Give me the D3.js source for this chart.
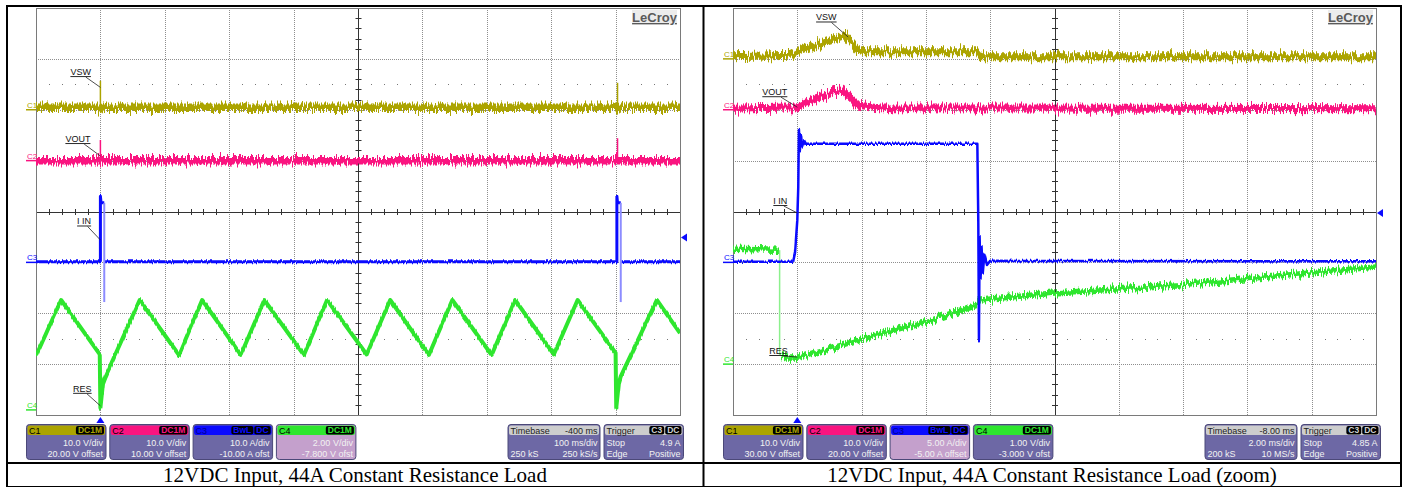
<!DOCTYPE html>
<html>
<head>
<meta charset="utf-8">
<script src="https://cdn.jsdelivr.net/npm/d3@7"></script>
<style>
body { margin: 0; background: #fff; }
svg { display: block; font-family: "Liberation Sans", Arial, sans-serif; }
</style>
</head>
<body>
<div id="chart"></div>
<script>
const captions = ["12VDC Input, 44A Constant Resistance Load", "12VDC Input, 44A Constant Resistance Load (zoom)"];
const channelNames = ["C1", "C2", "C3", "C4"];
const channelBadges = [["DC1M"], ["DC1M"], ["BwL", "DC"], ["DC1M"]];

// left screen: timebase and channel settings
const leftDelay = -400, leftPerDiv = 100;          // ms
const leftScale = [10, 10, 10, 2];                 // units / div
const leftOffset = [20, 10, -10, -7.8];
const leftTrigLevel = 4.9;                         // A on C3
const leftVdivText = ["10.0 V/div", "10.0 V/div", "10.0 A/div", "2.00 V/div"];
const leftOfsText = ["20.00 V offset", "10.00 V offset", "-10.00 A ofst", "-7.800 V ofst"];
const leftTimebaseText = ["-400 ms", "100 ms/div", "250 kS", "250 kS/s"];
const leftTriggerText = ["Stop", "4.9 A", "Edge", "Positive"];

// right screen (zoom)
const rightDelay = -8, rightPerDiv = 2;
const rightScale = [10, 10, 5, 1];
const rightOffset = [30, 20, -5, -3];
const rightTrigLevel = 4.85;
const rightVdivText = ["10.0 V/div", "10.0 V/div", "5.00 A/div", "1.00 V/div"];
const rightOfsText = ["30.00 V offset", "20.00 V offset", "-5.00 A offset", "-3.000 V ofst"];
const rightTimebaseText = ["-8.00 ms", "2.00 ms/div", "200 kS", "10 MS/s"];
const rightTriggerText = ["Stop", "4.85 A", "Edge", "Positive"];

// traces: [time ms, value]; null = gap in the trace
const leftVsw = [[-100, 0.5], [-1, 0.5], [1, 0.2], [4, 0.5], [802, 0.5], [804, 0.2], [807, 0.5], [900, 0.5]];
const leftVswSpikes = [[0, 0.5, 5.7], [803, 0.5, 5.3]];      // [t, from, to]
const leftVout = [[-100, 0.0], [900, 0.0]];
const leftVoutSpikes = [[0, 0.0, 4.05], [803, 0.0, 4.4]];
const leftIin = [[-100, 0.1], [0, 0.1], [0, 13], [1, 11.7], [6, 11.7], null, [7, 0.1],
  [802, 0.1], [802, 13], [803, 11.7], [808, 11.7], null, [809, 0.1], [900, 0.1]];
const leftIinDips = [[6, 11.7, -7.8], [808, 11.7, -7.8]];
const leftRes = [[-100, 2.12], [-61, 4.32], [-1, 2.18], [0, 0.08], [4, 1.06], [8, 1.32], [61, 4.32],
  [122, 2.16], [158, 4.32], [218, 2.16], [254.5, 4.32], [316, 2.16], [352, 4.32], [413.5, 2.18],
  [450, 4.32], [510, 2.16], [546.5, 4.32], [607.5, 2.16], [644, 4.32], [704, 2.18], [741, 4.32],
  [800, 2.24], [801, 0.08], [805, 1.06], [808, 1.32], [864, 4.32], [900, 3.02]];

const rightVsw = [[-2, 0.4], [-0.2, 0.7], [0.1, 1.7], [0.7, 3.1], [1.5, 4.6], [1.9, 1.7], [2.1, 1.4],
  [5.6, 1.4], [5.7, 0.4], [18, 0.4]];
const rightVout = [[-2, 0.3], [0, 0.6], [0.6, 2.2], [1.39, 3.9], [1.9, 0.9], [2.5, 0.4], [18, 0.2]];
const rightIin = [[-2, 0.05], [-0.13, 0.05], [-0.07, 0.95], [0, 4.15], [0.03, 7.4], [0.05, 13], [0.08, 11],
  [0.12, 12.5], [0.15, 11.4], [0.21, 12], [0.27, 11.65], [5.6, 11.65], [5.63, 4], [5.65, -7.65],
  [5.67, 2.5], [5.7, -1.5], [5.73, 1.5], [5.77, -1], [5.82, 0.75], [5.9, -0.25], [6, 0.15], [18, 0.1]];
const rightRes = [[-2, 2.26], [-0.57, 2.24], null, [-0.5, 0.18], [-0.35, 0.12], [0.05, 0.12], [2.1, 0.51],
  [4.2, 0.87], [5.6, 1.18], [5.7, 1.26], [8, 1.4], [11.9, 1.56], [18, 1.91]];
const rightResDrops = [[-0.55, 2.24, 0.18]];

// trace labels: [text, t, value] on channel C1..C4
const leftLabels = [["VSW", 0, 4.4], ["VOUT", 0, 0.9], ["I IN", 0, 4.4], ["RES", 0, 0.16]];
const rightLabels = [["VSW", 1.58, 4.3], ["VOUT", 0, 0.5], ["I IN", 0, 4.85], ["RES", 0, 0.14]];

// ---- styles / layout ----
const W = 1406, H = 487;
const colors = ["#aca400", "#fa1480", "#0a0aff", "#2ee62e"];
const lightColors = [null, null, "#8c8cff", "#8cf08c"];
const boxBody = "#6d68a5", boxHigh = "#c4a0cc", boxEdge = "#4b4878";

const svg = d3.select("#chart").append("svg").attr("width", W).attr("height", H);
const defs = svg.append("defs");

// jitter filter for the noisy trace bands
function noiseFilter(id, scale, seed) {
  const f = defs.append("filter").attr("id", id)
    .attr("filterUnits", "userSpaceOnUse").attr("x", 0).attr("y", 0).attr("width", W).attr("height", H)
    .attr("color-interpolation-filters", "sRGB");
  f.append("feTurbulence").attr("type", "fractalNoise").attr("baseFrequency", "0.8 0.03")
    .attr("numOctaves", 2).attr("seed", seed).attr("result", "t");
  f.append("feColorMatrix").attr("in", "t").attr("type", "matrix")
    .attr("values", "0 0 0 0 0.5  1 0 0 0 0  0 0 0 0 0  0 0 0 0 1").attr("result", "m");
  f.append("feDisplacementMap").attr("in", "SourceGraphic").attr("in2", "m")
    .attr("scale", scale).attr("xChannelSelector", "R").attr("yChannelSelector", "G");
}
noiseFilter("nBig", 15, 3);
noiseFilter("nMid", 13, 7);
noiseFilter("nSmall", 4, 11);

const panels = [
  { left: 36, top: 8, width: 644, height: 407, delay: leftDelay, perDiv: leftPerDiv,
    scale: leftScale, offset: leftOffset, trig: leftTrigLevel,
    traces: [leftVsw, leftVout, leftIin, leftRes],
    widths: [7.5, 7.5, 3, 4], filters: ["nBig", "nBig", "nSmall", "nSmall"],
    spikes: [leftVswSpikes, leftVoutSpikes, [], []], dips: [[], [], leftIinDips, []],
    labels: leftLabels, labelOffsets: [[-30, -12.3], [-35, -14], [-23.3, -15.5], [-27.3, -14]],
    vdiv: leftVdivText, ofs: leftOfsText, tb: leftTimebaseText, tr: leftTriggerText, high: 3,
    caption: captions[0], cellX: [7, 703] },
  { left: 733, top: 8, width: 643, height: 407, delay: rightDelay, perDiv: rightPerDiv,
    scale: rightScale, offset: rightOffset, trig: rightTrigLevel,
    traces: [rightVsw, rightVout, rightIin, rightRes],
    widths: [7, 7, 2.5, 5.5], filters: ["nBig", "nBig", "nSmall", "nMid"],
    spikes: [[], [], [], []], dips: [[], [], [], rightResDrops],
    labels: rightLabels, labelOffsets: [[-32, -16.5], [-35, -12], [-24, -9], [-28, -3]],
    vdiv: rightVdivText, ofs: rightOfsText, tb: rightTimebaseText, tr: rightTriggerText, high: 2,
    caption: captions[1], cellX: [703, 1401] }
];

function drawBox(g, bx, by, bw, bh, headFill, bodyFill) {
  g.append("rect").attr("x", bx + 0.5).attr("y", by + 0.5).attr("width", bw).attr("height", bh)
    .attr("rx", 3).attr("fill", bodyFill).attr("stroke", boxEdge);
  g.append("rect").attr("x", bx + 1.5).attr("y", by + 1.5).attr("width", bw - 2).attr("height", 9.5)
    .attr("rx", 2).attr("fill", headFill);
}

function drawBadges(g, rightX, by, names, textFill) {
  let bx = rightX;
  names.slice().reverse().forEach(n => {
    const bg = g.append("g");
    const r = bg.append("rect").attr("fill", "#000").attr("rx", 2);
    const t = bg.append("text").attr("font-size", 8.5).attr("font-weight", "bold")
      .attr("fill", textFill).attr("text-anchor", "end").attr("x", bx - 2).attr("y", by + 9).text(n);
    const w = t.node().getComputedTextLength();
    r.attr("x", bx - w - 4).attr("y", by + 2).attr("width", w + 4).attr("height", 8.5);
    bx -= w + 5;
  });
}

function drawPanel(p, pi) {
  const g = svg.append("g");
  const t0 = -5 * p.perDiv - p.delay;
  const x = d3.scaleLinear().domain([t0, t0 + 10 * p.perDiv]).range([p.left, p.left + p.width]);
  const yDiv = d3.scaleLinear().domain([-4, 4]).range([p.top + p.height, p.top]);
  const toDiv = (ch, v) => (v + p.offset[ch]) / p.scale[ch];
  const right = p.left + p.width, bottom = p.top + p.height;
  const cx = x(t0 + 5 * p.perDiv), cy = yDiv(0);

  // grid
  const grid = g.append("g").attr("stroke", "#8e8e8e").attr("stroke-dasharray", "1,1");
  grid.selectAll(null).data([1, 2, 3, 4, 6, 7, 8, 9]).join("line")
    .attr("x1", i => Math.round(x(t0 + i * p.perDiv)) + 0.5).attr("x2", i => Math.round(x(t0 + i * p.perDiv)) + 0.5)
    .attr("y1", p.top).attr("y2", bottom);
  grid.selectAll(null).data([-3, -2, -1, 1, 2, 3]).join("line")
    .attr("y1", d => Math.round(yDiv(d)) + 0.5).attr("y2", d => Math.round(yDiv(d)) + 0.5)
    .attr("x1", p.left).attr("x2", right);

  // sparse dot rows
  const dots = d3.range(1, 50).filter(k => k % 5 !== 0);
  [-2.5, 2.5].forEach(r => {
    g.append("g").selectAll(null).data(dots).join("rect")
      .attr("x", k => Math.round(x(t0 + k * p.perDiv / 5))).attr("y", Math.round(yDiv(r)))
      .attr("width", 1).attr("height", 1).attr("fill", "#777");
  });

  // centre axes with minor ticks
  const axes = g.append("g").attr("stroke", "#333").attr("stroke-width", 1);
  axes.append("line").attr("x1", p.left).attr("x2", right).attr("y1", Math.round(cy) + 0.5).attr("y2", Math.round(cy) + 0.5);
  axes.append("line").attr("y1", p.top).attr("y2", bottom).attr("x1", Math.round(cx) + 0.5).attr("x2", Math.round(cx) + 0.5);
  axes.selectAll(null).data(dots).join("line")
    .attr("x1", k => Math.round(x(t0 + k * p.perDiv / 5)) + 0.5).attr("x2", k => Math.round(x(t0 + k * p.perDiv / 5)) + 0.5)
    .attr("y1", cy - 2.5).attr("y2", cy + 3.5);
  axes.selectAll(null).data(d3.range(1, 40).filter(k => k % 5 !== 0)).join("line")
    .attr("y1", k => Math.round(yDiv(k / 5 - 4)) + 0.5).attr("y2", k => Math.round(yDiv(k / 5 - 4)) + 0.5)
    .attr("x1", cx - 2.5).attr("x2", cx + 3.5);

  g.append("rect").attr("x", p.left + 0.5).attr("y", p.top + 0.5).attr("width", p.width).attr("height", p.height)
    .attr("fill", "none").attr("stroke", "#7a7a7a");

  // traces, drawn C1, C2, C4, C3
  const clipId = "clip" + pi;
  defs.append("clipPath").attr("id", clipId).append("rect")
    .attr("x", p.left).attr("y", p.top).attr("width", p.width).attr("height", p.height);
  const tg = g.append("g").attr("clip-path", `url(#${clipId})`);
  [0, 1, 3, 2].forEach(ch => {
    const line = d3.line().defined(d => d != null)
      .x(d => x(d[0])).y(d => yDiv(toDiv(ch, d[1])));
    tg.append("path").datum(p.traces[ch]).attr("d", line)
      .attr("fill", "none").attr("stroke", colors[ch]).attr("stroke-width", p.widths[ch])
      .attr("stroke-linejoin", "round").attr("filter", `url(#${p.filters[ch]})`);
    tg.selectAll(null).data(p.spikes[ch]).join("line")
      .attr("x1", d => x(d[0])).attr("x2", d => x(d[0]))
      .attr("y1", d => yDiv(toDiv(ch, d[1]))).attr("y2", d => yDiv(toDiv(ch, d[2])))
      .attr("stroke", colors[ch]).attr("stroke-width", 1.5);
    tg.selectAll(null).data(p.dips[ch]).join("line")
      .attr("x1", d => x(d[0])).attr("x2", d => x(d[0]))
      .attr("y1", d => yDiv(toDiv(ch, d[1]))).attr("y2", d => yDiv(toDiv(ch, d[2])))
      .attr("stroke", lightColors[ch]).attr("stroke-width", ch === 2 ? 2 : 1.5);
  });

  // trace labels with leaders
  p.labels.forEach((l, ch) => {
    const ax = x(l[1]), ay = yDiv(toDiv(ch, l[2]));
    const tx = ax + p.labelOffsets[ch][0], ty = ay + p.labelOffsets[ch][1];
    const t = g.append("text").attr("x", tx).attr("y", ty).attr("font-size", 9).attr("fill", "#111").text(l[0]);
    const w = t.node().getComputedTextLength();
    g.append("line").attr("x1", tx).attr("x2", tx + w).attr("y1", ty + 1.5).attr("y2", ty + 1.5)
      .attr("stroke", "#111").attr("stroke-width", 0.9);
    g.append("line").attr("x1", tx + w * 0.75).attr("y1", ty + 2).attr("x2", ax).attr("y2", ay)
      .attr("stroke", "#222").attr("stroke-width", 0.8);
  });

  // channel ground markers
  channelNames.forEach((n, ch) => {
    const ly = yDiv(p.offset[ch] / p.scale[ch]);
    g.append("text").attr("x", p.left - 9).attr("y", ly - 2).attr("font-size", 8)
      .attr("fill", colors[ch]).text(n);
    g.append("line").attr("x1", p.left - 10).attr("x2", p.left).attr("y1", ly).attr("y2", ly)
      .attr("stroke", colors[ch]).attr("stroke-width", 1.5);
  });

  // trigger level and trigger time markers
  const ty = yDiv(toDiv(2, p.trig));
  g.append("path").attr("d", `M${right + 1},${ty} L${right + 7},${ty - 4} L${right + 7},${ty + 4} Z`).attr("fill", colors[2]);
  const tx0 = x(0);
  g.append("path").attr("d", `M${tx0},${bottom + 2} L${tx0 - 4},${bottom + 8} L${tx0 + 4},${bottom + 8} Z`).attr("fill", colors[2]);

  // LeCroy logo
  g.append("rect").attr("x", right - 48).attr("y", p.top + 2).attr("width", 45).attr("height", 15)
    .attr("fill", "#ececec");
  g.append("text").attr("x", right - 25.5).attr("y", p.top + 14).attr("text-anchor", "middle")
    .attr("font-size", 13).attr("font-weight", "bold").attr("fill", "#5a5a5a")
    .attr("text-decoration", "underline").text("LeCroy");

  // channel info boxes
  const by = 424;
  channelNames.forEach((n, ch) => {
    const bx = p.left - 10 + ch * 83.3;
    const bg = g.append("g");
    drawBox(bg, bx, by, 79.5, 35, colors[ch], ch === p.high ? boxHigh : boxBody);
    bg.append("text").attr("x", bx + 3).attr("y", by + 9.5).attr("font-size", 9)
      .attr("fill", ch === 2 ? "#000090" : "#000").text(n);
    drawBadges(bg, bx + 78, by, channelBadges[ch], colors[ch]);
    bg.append("text").attr("x", bx + 77).attr("y", by + 21.5).attr("text-anchor", "end")
      .attr("font-size", 9).attr("fill", "#f2f2f2").text(p.vdiv[ch]);
    bg.append("text").attr("x", bx + 77).attr("y", by + 32.5).attr("text-anchor", "end")
      .attr("font-size", 9).attr("fill", "#f2f2f2").text(p.ofs[ch]);
  });

  // timebase box
  const tbx = p.left + 471.5;
  const tb = g.append("g");
  drawBox(tb, tbx, by, 92, 35, "#cdcdcd", boxBody);
  tb.append("text").attr("x", tbx + 3).attr("y", by + 9.5).attr("font-size", 9).attr("fill", "#222").text("Timebase");
  tb.append("text").attr("x", tbx + 90).attr("y", by + 9.5).attr("font-size", 9).attr("fill", "#222")
    .attr("text-anchor", "end").text(p.tb[0]);
  tb.append("text").attr("x", tbx + 90).attr("y", by + 21.5).attr("font-size", 9).attr("fill", "#f2f2f2")
    .attr("text-anchor", "end").text(p.tb[1]);
  tb.append("text").attr("x", tbx + 3).attr("y", by + 32.5).attr("font-size", 9).attr("fill", "#f2f2f2").text(p.tb[2]);
  tb.append("text").attr("x", tbx + 90).attr("y", by + 32.5).attr("font-size", 9).attr("fill", "#f2f2f2")
    .attr("text-anchor", "end").text(p.tb[3]);

  // trigger box
  const trx = p.left + 567.5;
  const tr = g.append("g");
  drawBox(tr, trx, by, 79.5, 35, "#cdcdcd", boxBody);
  tr.append("text").attr("x", trx + 3).attr("y", by + 9.5).attr("font-size", 9).attr("fill", "#222").text("Trigger");
  drawBadges(tr, trx + 78, by, ["C3", "DC"], "#cfcfcf");
  tr.append("text").attr("x", trx + 3).attr("y", by + 21.5).attr("font-size", 9).attr("fill", "#f2f2f2").text(p.tr[0]);
  tr.append("text").attr("x", trx + 77).attr("y", by + 21.5).attr("font-size", 9).attr("fill", "#f2f2f2")
    .attr("text-anchor", "end").text(p.tr[1]);
  tr.append("text").attr("x", trx + 3).attr("y", by + 32.5).attr("font-size", 9).attr("fill", "#f2f2f2").text(p.tr[2]);
  tr.append("text").attr("x", trx + 77).attr("y", by + 32.5).attr("font-size", 9).attr("fill", "#f2f2f2")
    .attr("text-anchor", "end").text(p.tr[3]);

  // caption
  svg.append("text").attr("x", (p.cellX[0] + p.cellX[1]) / 2).attr("y", 481.5).attr("text-anchor", "middle")
    .attr("font-family", "'Liberation Serif', 'Times New Roman', serif").attr("font-size", 21)
    .attr("fill", "#000").text(p.caption);
}

panels.forEach(drawPanel);

// table borders
const frame = svg.append("g").attr("stroke", "#000").attr("stroke-width", 2);
frame.append("line").attr("x1", 6).attr("x2", 1402).attr("y1", 6).attr("y2", 6);
frame.append("line").attr("x1", 6).attr("x2", 1402).attr("y1", 463).attr("y2", 463);
frame.append("line").attr("x1", 6).attr("x2", 1402).attr("y1", 487).attr("y2", 487);
[7, 703.5, 1401].forEach(vx => frame.append("line").attr("x1", vx).attr("x2", vx).attr("y1", 5).attr("y2", 487));
</script>
</body>
</html>
